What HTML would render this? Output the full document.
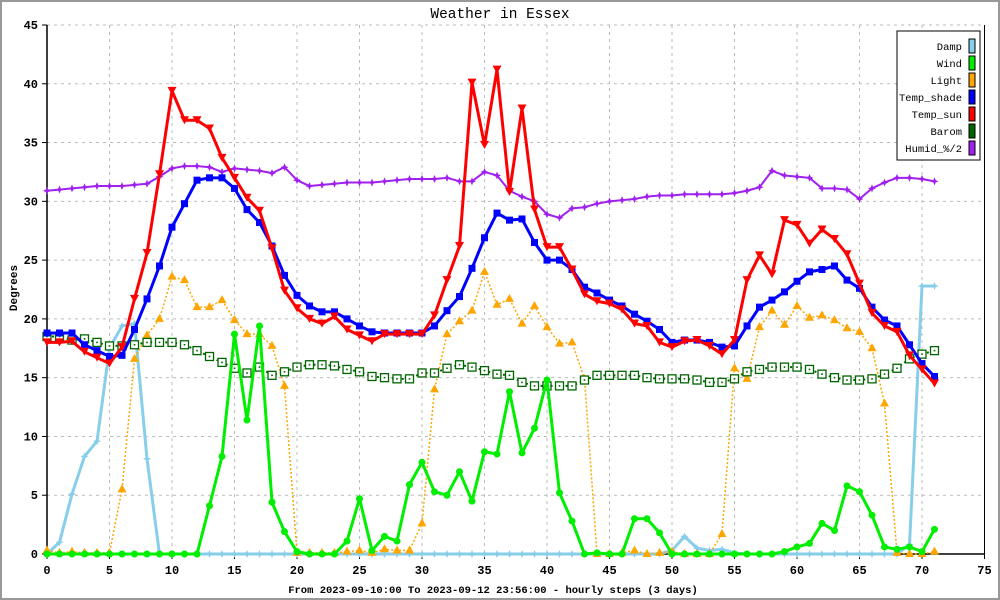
<!DOCTYPE html>
<html><head><meta charset="utf-8">
<style>
html,body{margin:0;padding:0;background:#fff;}
svg{display:block;}
text{font-family:"Liberation Mono","DejaVu Sans Mono",monospace;}
</style></head>
<body>
<svg id="chart" width="1000" height="600" viewBox="0 0 1000 600" xmlns="http://www.w3.org/2000/svg">
<rect x="1" y="1" width="998" height="598" fill="#fff" stroke="#999" stroke-width="2"/>
<text x="500" y="18" text-anchor="middle" font-size="14.5">Weather in Essex</text>
<text x="0" y="0" transform="translate(17,288) rotate(-90)" text-anchor="middle" font-size="11" font-weight="bold">Degrees</text>
<text x="493" y="593" text-anchor="middle" font-size="10.5" font-weight="bold">From 2023-09-10:00 To 2023-09-12 23:56:00 - hourly steps (3 days)</text>
<g id="grid"></g>
<g id="axes"></g>
<g id="series"></g>
<g id="legend"></g>
</svg>
<script>
const xTicks = [0,5,10,15,20,25,30,35,40,45,50,55,60,65,70,75];
const yTicks = [0,5,10,15,20,25,30,35,40,45];
const damp = [0,1.0,5.1,8.3,9.6,17.5,19.4,19.6,8.1,0,0,0,0,0,0,0,0,0,0,0,0,0,0,0,0,0,0,0,0,0,0,0,0,0,0,0,0,0,0,0,0,0,0,0,0,0,0,0,0,0,0.3,1.5,0.5,0.3,0.4,0.1,0,0,0,0,0,0,0,0,0,0,0,0,0,0.8,22.8,22.8];
const wind = [0,0,0,0,0,0,0,0,0,0,0,0,0,4.1,8.3,18.7,11.4,19.4,4.4,1.9,0.2,0,0,0,1.1,4.7,0.3,1.5,1.1,5.9,7.8,5.3,5.0,7.0,4.5,8.7,8.5,13.8,8.6,10.7,14.8,5.2,2.8,0,0.1,0,0,3.0,3.0,1.8,0,0,0,0,0,0,0,0,0,0.2,0.6,0.9,2.6,2.0,5.8,5.3,3.3,0.6,0.4,0.6,0.2,2.1];
const light = [0.3,0.1,0.2,0.1,0.1,0.1,5.5,16.6,18.6,20.0,23.6,23.3,21.0,21.0,21.6,19.9,18.7,18.7,17.7,14.3,0.1,0.1,0.1,0.1,0.2,0.3,0.1,0.4,0.3,0.3,2.6,14.0,18.7,19.8,20.7,24.0,21.2,21.7,19.6,21.1,19.3,17.9,18.0,14.9,0,0,0.1,0.3,0,0.1,0.2,0,0,0,1.7,15.8,14.9,19.3,20.7,19.5,21.1,20.1,20.3,19.9,19.2,18.9,17.5,12.8,0.1,0,0,0.2];
const tempShade = [18.8,18.8,18.8,17.8,17.3,16.8,16.9,19.1,21.7,24.5,27.8,29.8,31.8,32.0,32.0,31.1,29.3,28.2,26.2,23.7,22.0,21.1,20.6,20.6,20.0,19.4,18.9,18.8,18.8,18.8,18.8,19.4,20.7,21.9,24.3,26.9,29.0,28.4,28.5,26.5,25.0,25.0,24.2,22.7,22.2,21.6,21.1,20.4,19.8,19.1,18.0,18.2,18.2,18.0,17.6,17.7,19.4,21.0,21.6,22.3,23.2,24.0,24.2,24.5,23.3,22.6,21.0,19.9,19.4,17.8,16.2,15.1];
const tempSun = [18.0,18.0,18.1,17.2,16.7,16.2,17.6,21.7,25.6,32.3,39.4,36.9,36.9,36.2,33.7,32.0,30.3,29.2,26.0,22.4,20.9,20.0,19.6,20.2,19.1,18.6,18.1,18.7,18.7,18.7,18.7,20.3,23.3,26.2,40.1,34.8,41.2,30.8,37.9,29.3,26.1,26.1,24.2,22.1,21.5,21.3,20.8,19.6,19.4,18.0,17.6,18.1,18.2,17.7,17.0,18.2,23.3,25.4,23.8,28.4,28.0,26.4,27.6,26.8,25.5,23.0,20.5,19.4,18.9,16.9,15.7,14.5];
const barom = [18.5,18.5,18.2,18.3,18.0,17.7,17.7,17.8,18.0,18.0,18.0,17.8,17.3,16.8,16.3,15.8,15.4,15.9,15.2,15.5,15.9,16.1,16.1,16.0,15.7,15.5,15.1,15.0,14.9,14.9,15.4,15.4,15.8,16.1,15.9,15.6,15.3,15.2,14.6,14.3,14.3,14.3,14.3,14.8,15.2,15.2,15.2,15.2,15.0,14.9,14.9,14.9,14.8,14.6,14.6,14.9,15.5,15.7,15.9,15.9,15.9,15.7,15.3,15.0,14.8,14.8,14.9,15.3,15.8,16.6,17.0,17.3];
const humid = [30.9,31.0,31.1,31.2,31.3,31.3,31.3,31.4,31.5,32.1,32.8,33.0,33.0,32.9,32.5,32.8,32.7,32.6,32.4,32.9,31.8,31.3,31.4,31.5,31.6,31.6,31.6,31.7,31.8,31.9,31.9,31.9,32.0,31.7,31.7,32.5,32.2,30.9,30.4,30.0,28.9,28.6,29.4,29.5,29.8,30.0,30.1,30.2,30.4,30.5,30.5,30.6,30.6,30.6,30.6,30.7,30.9,31.2,32.6,32.2,32.1,32.0,31.1,31.1,31.0,30.2,31.1,31.6,32.0,32.0,31.9,31.7];
const legendNames = ["Damp","Wind","Light","Temp_shade","Temp_sun","Barom","Humid_%/2"];

const NS="http://www.w3.org/2000/svg";
const X0=47,X1=984.5,Y0=554,Y1=25,XMAX=75,YMAX=45;
function xs(v){return X0+(X1-X0)*v/XMAX;}
function ys(v){return Y0-(Y0-Y1)*v/YMAX;}
function mk(tag,attrs,parent){const e=document.createElementNS(NS,tag);for(const k in attrs)e.setAttribute(k,attrs[k]);parent.appendChild(e);return e;}
const grid=document.getElementById('grid'),axes=document.getElementById('axes'),ser=document.getElementById('series'),leg=document.getElementById('legend');

xTicks.forEach(t=>{
  if(t>0&&t<XMAX){const l=mk('line',{x1:xs(t),x2:xs(t),y1:Y1,y2:Y0,stroke:'#bbb','stroke-dasharray':'3,4'},grid);
  
  }
  const tk=mk('line',{x1:xs(t),x2:xs(t),y1:Y0,y2:Y0+5,stroke:'#000'},axes);
  
  
  const tx=mk('text',{x:xs(t),y:Y0+20,'text-anchor':'middle','font-size':'12','font-weight':'bold'},axes);
  tx.textContent=t;
  
  
});
yTicks.forEach(t=>{
  if(t>0){const l=mk('line',{x1:X0,x2:X1,y1:ys(t),y2:ys(t),stroke:'#bbb','stroke-dasharray':'3,4'},grid);
  
  }
  const tk=mk('line',{x1:X0-5,x2:X0,y1:ys(t),y2:ys(t),stroke:'#000'},axes);
  
  
  const tx=mk('text',{x:X0-9,y:ys(t)+4,'text-anchor':'end','font-size':'12','font-weight':'bold'},axes);
  tx.textContent=t;
  
  
});
const ya=mk('line',{x1:X0,x2:X0,y1:Y1,y2:Y0,stroke:'#000','stroke-width':1.5},axes);


const xa=mk('line',{x1:X0,x2:X1,y1:Y0,y2:Y0,stroke:'#000','stroke-width':1.5},axes);


const ra=mk('line',{x1:X1,x2:X1,y1:Y1,y2:Y0,stroke:'#000','stroke-width':1},axes);



function marker(g,type,x,y,color){
  let e;
  if(type==='circle'){e=mk('circle',{cx:x,cy:y,r:3.5,fill:color},g);}
  else if(type==='tri-up'){e=mk('polygon',{points:`${x},${y-5} ${x-4.5},${y+3} ${x+4.5},${y+3}`,fill:color},g);}
  else if(type==='tri-down'){e=mk('polygon',{points:`${x},${y+4} ${x-4.5},${y-4} ${x+4.5},${y-4}`,fill:color},g);}
  else if(type==='square'){e=mk('rect',{x:x-3.5,y:y-3.5,width:7,height:7,fill:color},g);}
  else if(type==='open-square'){e=mk('rect',{x:x-4,y:y-4,width:8,height:8,fill:'#fff',stroke:color,'stroke-width':1.3},g);mk('rect',{x:x-0.8,y:y-0.8,width:1.6,height:1.6,fill:color},g);}
  else if(type==='star'){e=mk('polygon',{points:`${x},${y-4} ${x+1.2},${y-1.2} ${x+4},${y} ${x+1.2},${y+1.2} ${x},${y+4} ${x-1.2},${y+1.2} ${x-4},${y} ${x-1.2},${y-1.2}`,fill:color},g);}
  return e;
}
const defs=[
 {name:'damp',data:damp,color:'#87ceeb',w:3,dash:null,m:'star'},
 {name:'light',data:light,color:'#ffa500',w:1.5,dash:'2,2',m:'tri-up'},
 {name:'barom',data:barom,color:'#006400',w:2,dash:'2,3',m:'open-square'},
 {name:'humid',data:humid,color:'#a020f0',w:2,dash:null,m:'star'},
 {name:'temp-shade',data:tempShade,color:'#0000ff',w:3,dash:null,m:'square'},
 {name:'temp-sun',data:tempSun,color:'#ff0000',w:3,dash:null,m:'tri-down'},
 {name:'wind',data:wind,color:'#00ee00',w:3,dash:null,m:'circle'}
];
defs.forEach(s=>{
  const g=mk('g',{},ser);
  
  
  const pts=s.data.map((v,i)=>xs(i)+','+ys(v)).join(' ');
  const a={points:pts,fill:'none',stroke:s.color,'stroke-width':s.w,'stroke-linejoin':'round'};
  if(s.dash)a['stroke-dasharray']=s.dash;
  const pl=mk('polyline',a,g);
  
  
  s.data.forEach((v,i)=>{
    const e=marker(g,s.m,xs(i),ys(v),s.color);
    
    
  });
});
// legend
const legColors=['#87ceeb','#00ee00','#ffa500','#0000ff','#ff0000','#006400','#a020f0'];
const lb=mk('rect',{x:897,y:31,width:83,height:129,fill:'#fff',stroke:'#000','stroke-width':1},leg);


legendNames.forEach((n,i)=>{
  const y=46+i*17;
  const t=mk('text',{x:962,y:y+4,'text-anchor':'end','font-size':'10.5'},leg);
  t.textContent=n;
  
  
  const r=mk('rect',{x:969,y:y-7,width:6,height:14,fill:legColors[i],stroke:'#000','stroke-width':1},leg);
  
  
});
</script>
</body></html>
